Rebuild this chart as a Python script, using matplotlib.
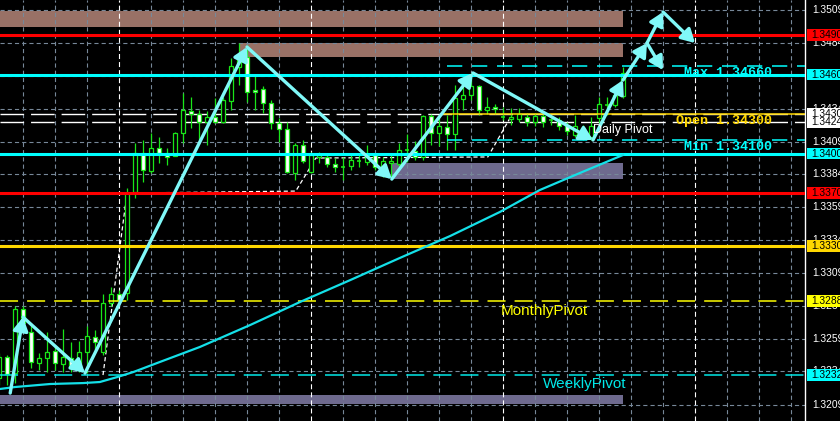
import matplotlib.pyplot as plt
from matplotlib.patches import Rectangle
import matplotlib.transforms as mtransforms

plt.rcParams['lines.scale_dashes'] = False

# ---------------- H1 candles (left to right) ----------------
opens = [1.32295, 1.32455, 1.32333, 1.32819, 1.32645, 1.32409, 1.32447, 1.32500, 1.32401, 1.32447,
         1.32379, 1.32493, 1.32607, 1.32493, 1.32865, 1.32933, 1.32941, 1.33708, 1.34004, 1.33867,
         1.34042, 1.34004, 1.33981, 1.34156, 1.34323, 1.34300, 1.34239, 1.34277, 1.34239, 1.34399,
         1.34657, 1.34733, 1.34482, 1.34490, 1.34384, 1.34232, 1.34186, 1.33852, 1.34065, 1.33860,
         1.33974, 1.33974, 1.33920, 1.33898, 1.33905, 1.33943, 1.33936, 1.33989, 1.33898, 1.33928,
         1.33920, 1.34027, 1.34019, 1.33974, 1.34285, 1.34156, 1.34201, 1.34148, 1.34414, 1.34444,
         1.34513, 1.34331, 1.34353, 1.34277, 1.34262, 1.34262, 1.34277, 1.34239, 1.34285, 1.34255,
         1.34255, 1.34217, 1.34141, 1.34194, 1.34126, 1.34270, 1.34369, 1.34369, 1.34437]
highs = [1.32485, 1.32470, 1.32842, 1.32842, 1.32713, 1.32485, 1.32645, 1.32531, 1.32667, 1.32569,
         1.32576, 1.32690, 1.32660, 1.32933, 1.32986, 1.32963, 1.33738, 1.34080, 1.34103, 1.34156,
         1.34126, 1.34042, 1.34163, 1.34460, 1.34429, 1.34331, 1.34323, 1.34422, 1.34429, 1.34726,
         1.34839, 1.34824, 1.34596, 1.34513, 1.34406, 1.34270, 1.34239, 1.34080, 1.34103, 1.34012,
         1.34012, 1.33989, 1.33966, 1.33974, 1.33989, 1.33989, 1.34065, 1.34004, 1.33974, 1.34004,
         1.34080, 1.34148, 1.34095, 1.34293, 1.34300, 1.34293, 1.34293, 1.34520, 1.34574, 1.34612,
         1.34520, 1.34429, 1.34376, 1.34353, 1.34346, 1.34346, 1.34308, 1.34308, 1.34300, 1.34270,
         1.34277, 1.34239, 1.34293, 1.34217, 1.34277, 1.34429, 1.34429, 1.34505, 1.34657]
lows = [1.32242, 1.32242, 1.32257, 1.32660, 1.32371, 1.32356, 1.32341, 1.32356, 1.32341, 1.32341,
        1.32341, 1.32333, 1.32508, 1.32470, 1.32842, 1.32865, 1.32888, 1.33662, 1.33784, 1.33852,
        1.33928, 1.33913, 1.33981, 1.34080, 1.34194, 1.34103, 1.34065, 1.34232, 1.34232, 1.34331,
        1.34520, 1.34391, 1.34331, 1.34308, 1.34186, 1.34088, 1.33852, 1.33799, 1.33928, 1.33852,
        1.33928, 1.33898, 1.33860, 1.33799, 1.33875, 1.33898, 1.33913, 1.33875, 1.33822, 1.33814,
        1.33898, 1.33936, 1.33951, 1.33951, 1.34065, 1.34057, 1.34027, 1.34027, 1.34331, 1.34406,
        1.34293, 1.34300, 1.34300, 1.34255, 1.34217, 1.34239, 1.34209, 1.34209, 1.34201, 1.34217,
        1.34179, 1.34141, 1.34126, 1.34103, 1.34103, 1.34232, 1.34293, 1.34353, 1.34422]
closes = [1.32455, 1.32325, 1.32819, 1.32713, 1.32417, 1.32447, 1.32493, 1.32409, 1.32455, 1.32379,
          1.32493, 1.32614, 1.32569, 1.32865, 1.32933, 1.32888, 1.33700, 1.34004, 1.33875, 1.34042,
          1.34004, 1.33974, 1.34156, 1.34331, 1.34300, 1.34239, 1.34277, 1.34239, 1.34406, 1.34665,
          1.34733, 1.34467, 1.34467, 1.34384, 1.34232, 1.34186, 1.33860, 1.34065, 1.33943, 1.33989,
          1.33989, 1.33920, 1.33898, 1.33898, 1.33951, 1.33943, 1.33989, 1.33898, 1.33943, 1.33943,
          1.34027, 1.34027, 1.33974, 1.34285, 1.34156, 1.34209, 1.34148, 1.34422, 1.34444, 1.34513,
          1.34331, 1.34353, 1.34338, 1.34277, 1.34277, 1.34300, 1.34239, 1.34285, 1.34239, 1.34255,
          1.34209, 1.34171, 1.34209, 1.34141, 1.34209, 1.34376, 1.34369, 1.34444, 1.34612]

# moving average (bar index, price)
ma_idx = [0.1, 2, 6.4, 10.5, 12.6, 14.8, 16.8, 20.1, 25.1, 31.4, 37.6, 43.9, 50.1, 56.4, 62.6, 67.6, 72.6, 78]
ma_val = [1.32212, 1.32227, 1.32250, 1.32257, 1.32265, 1.32303, 1.32341, 1.32417, 1.32531, 1.32698,
          1.32872, 1.33039, 1.33207, 1.33374, 1.33556, 1.33723, 1.33852, 1.33989]

# zigzag pivots and the arrows joining them
zz_idx = [1.4, 3, 10.75, 31, 49.1, 59.25, 74.25, 78, 81, 83, 83, 87]
zz_val = [1.32181, 1.32758, 1.32333, 1.34809, 1.33806, 1.34612, 1.34103, 1.34558, 1.34839,
          1.34634, 1.35075, 1.34839]
zz_segments = [(0, 1), (1, 2), (2, 3), (3, 4), (4, 5), (5, 6), (6, 7), (7, 8), (8, 9), (8, 10), (10, 11)]

# white dashed trail
trail_idx = [13, 16, 37.1, 39.6, 61.1, 64.1]
trail_val = [1.32318, 1.33700, 1.33715, 1.33966, 1.33974, 1.34293]

# price grid
grid_prices = [1.35090, 1.34840, 1.34590, 1.34340, 1.34090, 1.33845, 1.33595,
               1.33345, 1.33090, 1.32845, 1.32595, 1.32345, 1.32090]

# solid levels
level_prices = [1.3490, 1.3460, 1.3400, 1.3370, 1.3330]
level_colors = ['#FF0000', '#00FFFF', '#00FFFF', '#FF0000', '#FFD700']

# price boxes on the right scale
box_prices = [1.34900, 1.34600, 1.34300, 1.34240, 1.34000, 1.33700, 1.33300, 1.32880, 1.32320]
box_colors = ['#FF0000', '#00FFFF', '#FFFFFF', '#FFFFFF', '#00FFFF', '#FF0000', '#FFD700', '#FFFF00', '#00FFFF']

# zones (start bar, end bar, low, high)
zones = [(0.1, 78, 1.34961, 1.35082, '#997166'),
         (30, 78, 1.34733, 1.34839, '#997166'),
         (49, 78, 1.33806, 1.33928, '#6E6A8E'),
         (0.1, 78, 1.32098, 1.32166, '#6E6A8E')]

green = '#19E619'
zz_color = '#80F8F8'

fig = plt.figure(figsize=(8.4, 4.21), dpi=100, facecolor='black')
ax = fig.add_axes([0, 0, 805 / 840, 1])
ax.set_facecolor('black')
ax.set_xlim(0.125, 100.75)
ax.set_ylim(1.31969, 1.35166)
ax.set_xticks([])
ax.set_yticks([])
for s in ['left', 'top', 'bottom']:
    ax.spines[s].set_visible(False)
ax.spines['right'].set_color('white')
ax.spines['right'].set_linewidth(1)

for x0, x1, lo, hi, col in zones:
    ax.add_patch(Rectangle((x0, lo), x1 - x0, hi - lo, facecolor=col, edgecolor='none', zorder=0.5))

# grid
for p in grid_prices:
    ax.axhline(p, color='#778899', lw=0.8, ls=(0, (3, 2.2)), zorder=1)
for k in range(3, 101, 4):
    if (k - 15) % 24 == 0:
        ax.axvline(k, color='white', lw=0.8, ls=(0, (3.6, 2.2)), zorder=1.1)
    else:
        ax.axvline(k, color='#778899', lw=0.8, ls=(0, (3, 2.2)), zorder=1)

# white dashed levels
for p in [1.34300, 1.34240]:
    ax.axhline(p, color='white', lw=1, ls=(0, (17, 5)), zorder=1.2)
ax.plot(trail_idx, trail_val, color='white', lw=0.9, ls=(0, (3, 2)), zorder=1.3)

# candles
for i in range(len(opens)):
    o, h, l, c = opens[i], highs[i], lows[i], closes[i]
    ax.vlines(i, l, h, color=green, lw=0.9, zorder=2)
    if abs(c - o) < 1e-6:
        ax.hlines(o, i - 0.3, i + 0.3, color=green, lw=1.2, zorder=2.1)
    else:
        fc = 'white' if c < o else 'black'
        ax.add_patch(Rectangle((i - 0.3, min(o, c)), 0.6, abs(c - o),
                               facecolor=fc, edgecolor=green, lw=0.9, zorder=2.1))

# levels
for p, col in zip(level_prices, level_colors):
    ax.axhline(p, color=col, lw=2.2, zorder=3)
ax.axhline(1.3288, color='#FFFF00', lw=1.1, ls=(0, (13, 6.5)), zorder=3)
ax.axhline(1.3232, color='#00E8E8', lw=1.1, ls=(0, (13, 6.5)), zorder=3)
ax.hlines([1.34665, 1.34103], 56, 100.75, color='#00FFFF', lw=1.1, ls=(0, (11, 7)), zorder=3)
ax.hlines(1.34300, 55.5, 100.75, color='#FFD700', lw=1.1, zorder=3)

# moving average
ax.plot(ma_idx, ma_val, color='#14E0E8', lw=1.6, zorder=4)

# zigzag arrows
for a, b in zz_segments:
    ax.annotate('', xy=(zz_idx[b], zz_val[b]), xytext=(zz_idx[a], zz_val[a]),
                arrowprops=dict(arrowstyle='-|>,head_length=0.8,head_width=0.45', color=zz_color,
                                lw=2.4, shrinkA=0, shrinkB=0, mutation_scale=10), zorder=5)

# labels on chart
mono = dict(family='Liberation Mono', fontweight='bold', fontsize=9.6, va='center', zorder=6)
ax.text(85.6, 1.34612, 'Max 1.34660', color='#00FFFF', **mono)
ax.text(84.6, 1.34247, 'Open 1.34300', color='#FFD700', **mono)
ax.text(85.6, 1.34050, 'Min 1.34100', color='#00FFFF', **mono)
ax.text(74.3, 1.34179, 'Daily Pivot', color='white', family='Liberation Sans', fontsize=9, va='center', zorder=6)
ax.text(62.7, 1.32804, 'MonthlyPivot', color='#FFFF00', family='Liberation Sans', fontsize=11, va='center', zorder=6)
ax.text(68.0, 1.32250, 'WeeklyPivot', color='#00E8E8', family='Liberation Sans', fontsize=11, va='center', zorder=6)

# right price scale
trans = mtransforms.blended_transform_factory(ax.transAxes, ax.transData)
for p in grid_prices:
    ax.text(812 / 805, p, f'{p:.5f}', color='white', family='Liberation Sans', fontsize=7.4,
            va='center', ha='left', transform=trans, clip_on=False, zorder=7)
half = 0.00045
for p, col in zip(box_prices, box_colors):
    ax.add_patch(Rectangle((807 / 805, p - half), 40 / 805, 2 * half, facecolor=col, edgecolor='none',
                           transform=trans, clip_on=False, zorder=8))
    ax.text(811 / 805, p, f'{p:.5f}', color='black', family='Liberation Sans', fontsize=7.4,
            va='center', ha='left', transform=trans, clip_on=False, zorder=9)

fig.savefig('out.png', dpi=100, facecolor='black')
